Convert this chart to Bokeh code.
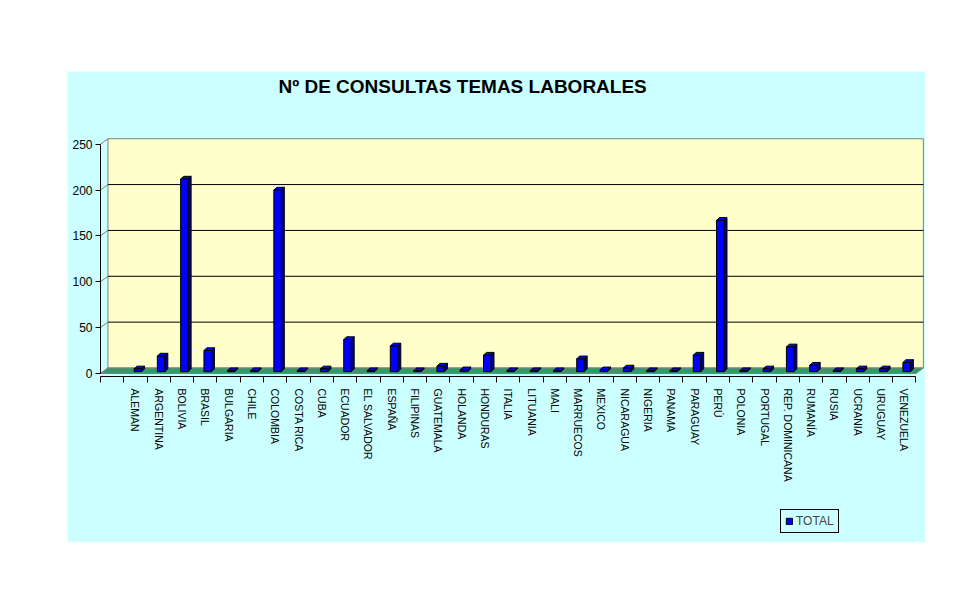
import numpy as np
from bokeh.plotting import figure
from bokeh.models import Range1d, FixedTicker, Label, Legend, LegendItem, Spacer
from bokeh.layouts import column, row
from bokeh.embed import file_html
from bokeh.resources import INLINE


#########################################################
# data
#########################################################

# first slot of the category axis is empty in the original sheet
categories = ["", "ALEMAN", "ARGENTINA", "BOLIVIA", "BRASIL", "BULGARIA", "CHILE",
              "COLOMBIA", "COSTA RICA", "CUBA", "ECUADOR", "EL SALVADOR", "ESPAÑA",
              "FILIPINAS", "GUATEMALA", "HOLANDA", "HONDURAS", "ITALIA", "LITUANIA",
              "MALI", "MARRUECOS", "MEXICO", "NICARAGUA", "NIGERIA", "PANAMA",
              "PARAGUAY", "PERÚ", "POLONIA", "PORTUGAL", "REP. DOMINICANA", "RUMANÍA",
              "RUSIA", "UCRANIA", "URUGUAY", "VENEZUELA"]
totals = [None, 3, 17, 210, 23, 1, 1,
          198, 1, 3, 35, 1, 28,
          1, 6, 2, 18, 1, 1,
          1, 14, 2, 4, 1, 1,
          18, 165, 1, 3, 27, 7,
          1, 3, 3, 10]
y_ticks = [0, 50, 100, 150, 200, 250]
chart_title = "Nº DE CONSULTAS TEMAS LABORALES"
series_name = "TOTAL"

FONT = "Liberation Sans"

# fake 3d look (excel style)
depth_x = 0.32   # in categories
depth_y = 6      # in values
bar_w = 0.32
side_x = 0.13
side_y = 3
bar_base = 2
axis_y = -3.3    # where the category axis sits


#########################################################
# plot
#########################################################

n = len(categories)
centers = [i + 0.5 for i in range(n)]

# the frame covers the whole cyan chart area, axes are pinned with fixed_location
p = figure(width=858, height=471, output_backend="svg", toolbar_location=None,
           x_range=Range1d(-1.416, 35.41), y_range=Range1d(-184.3, 329.3),
           min_border=0, border_fill_color="#CCFFFF", background_fill_color="#CCFFFF",
           outline_line_color=None)
p.xgrid.visible = False
p.ygrid.visible = False

# back wall and floor
p.quad(left=depth_x, right=n + depth_x, bottom=depth_y, top=y_ticks[-1] + depth_y,
       fill_color="#FFFFCC", line_color="#808080", line_width=1)
p.patch([0, n, n + depth_x, depth_x], [0, 0, depth_y, depth_y],
        fill_color="#339966", line_color="#808080", line_width=1)

# gridlines on the wall + small diagonals from the axis to the wall
grid_y = [t + depth_y for t in y_ticks[1:-1]]
p.segment(x0=[depth_x] * len(grid_y), y0=grid_y, x1=[n + depth_x] * len(grid_y), y1=grid_y,
          line_color="black", line_width=1)
p.segment(x0=[0] * len(y_ticks), y0=y_ticks, x1=[depth_x] * len(y_ticks),
          y1=[t + depth_y for t in y_ticks], line_color="#808080", line_width=1)

# bars
bx, bv = [], []
for i in range(n):
    if totals[i] is not None:
        bx.append(centers[i] + 0.1)
        bv.append(totals[i])
bx = np.array(bx)
bv = np.array(bv)
xl = bx - bar_w / 2
xr = bx + bar_w / 2
top = bv + bar_base

side_xs = [[r, r + side_x, r + side_x, r] for r in xr]
side_ys = [[bar_base, bar_base + side_y, t + side_y, t] for t in top]
p.patches(side_xs, side_ys, fill_color="#000080", line_color="black", line_width=1)

top_xs = [[l, r, r + side_x, l + side_x] for l, r in zip(xl, xr)]
top_ys = [[t, t, t + side_y, t + side_y] for t in top]
p.patches(top_xs, top_ys, fill_color="#0000FF", line_color="black", line_width=1)

front = p.vbar(x=bx, width=bar_w, bottom=bar_base, top=top,
               fill_color="#0000FF", line_color="black", line_width=1)

# axes
p.yaxis.fixed_location = 0
p.yaxis.ticker = FixedTicker(ticks=y_ticks)
p.yaxis.bounds = (y_ticks[0], y_ticks[-1])
p.yaxis.major_tick_out = 5
p.yaxis.major_tick_in = 0
p.yaxis.minor_tick_out = 0
p.yaxis.major_label_standoff = 3
p.yaxis.major_label_text_font_size = "12px"

p.xaxis.fixed_location = axis_y
p.xaxis.ticker = FixedTicker(ticks=centers, minor_ticks=list(range(n + 1)))
p.xaxis.major_label_overrides = {c: name for c, name in zip(centers, categories)}
p.xaxis.bounds = (0, n)
p.xaxis.major_tick_out = 0
p.xaxis.major_tick_in = 0
p.xaxis.minor_tick_out = 6
p.xaxis.minor_tick_in = 0
p.xaxis.major_label_orientation = "vertical"
p.xaxis.major_label_standoff = 6
p.xaxis.major_label_text_font_size = "10.5px"

for ax in [p.xaxis[0], p.yaxis[0]]:
    ax.axis_line_color = "black"
    ax.major_tick_line_color = "black"
    ax.minor_tick_line_color = "black"
    ax.major_label_text_font = FONT
    ax.major_label_text_color = "black"

# title
p.add_layout(Label(x=211, y=456, x_units="screen", y_units="screen", text=chart_title,
                   text_font=FONT, text_font_size="19px", text_font_style="bold",
                   text_baseline="middle", text_color="black"))

# legend
legend = Legend(items=[LegendItem(label=series_name, renderers=[front])],
                location=(713, 9), border_line_color="black", border_line_width=1,
                border_line_alpha=1, background_fill_alpha=0, padding=4, margin=0,
                spacing=0, glyph_width=8, glyph_height=8, label_standoff=3,
                label_height=12, label_text_font=FONT, label_text_font_size="12px")
p.add_layout(legend)

page = column(Spacer(height=71), row(Spacer(width=67), p))
open("out.html", "w").write(file_html(page, INLINE))
